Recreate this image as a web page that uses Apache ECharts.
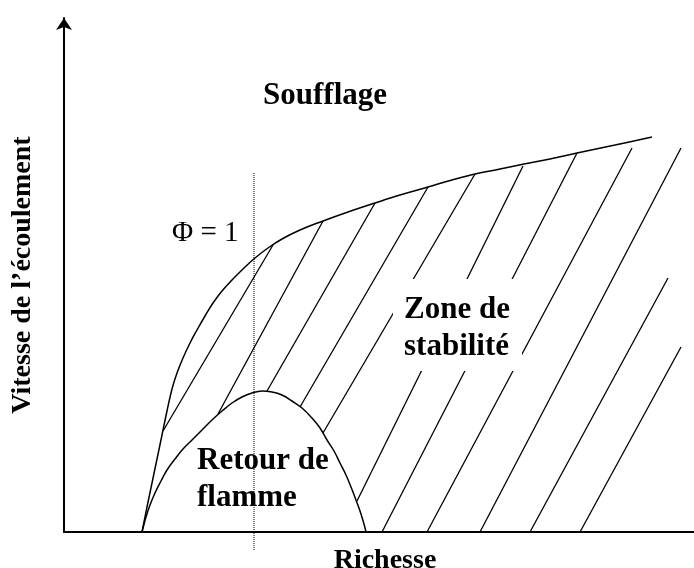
<!DOCTYPE html>
<html lang="fr">
<head>
<meta charset="utf-8">
<title>Diagramme de stabilité</title>
<script src="https://cdn.jsdelivr.net/npm/echarts@6/dist/echarts.min.js"></script>
<style>
    html, body { margin: 0; padding: 0; background: #fff; }
    #chart { width: 694px; height: 568px; }
</style>
</head>
<body>
<div id="chart"></div>
<script>
// Courbe limite de soufflage (x = richesse, y = vitesse, unités arbitraires)
const blowoffCurve = [
    [78, 0], [83, 25], [88, 49], [93, 73], [98, 97], [103, 121], [108, 143],
    [113, 159], [119, 174], [126, 189], [133, 202], [141, 216], [149, 229],
    [158, 241], [168, 252], [179, 263], [191, 274], [204, 284], [218, 293],
    [236, 302], [259, 311], [284, 320], [311, 329], [336, 337], [364, 345],
    [388, 352], [411, 358], [436, 363], [460, 368], [486, 373], [513, 379],
    [551, 387], [588, 395]
];

// Courbe limite de retour de flamme
const flashbackCurve = [
    [78, 0], [82, 15], [86, 27], [91, 39], [97, 51], [103, 62], [111, 73],
    [119, 83], [128, 92], [138, 102], [148, 112], [158, 121], [168, 129],
    [178, 135], [188, 139], [198, 141], [208, 140], [218, 137], [228, 131],
    [238, 124], [248, 114], [256, 104], [263, 92], [270, 81], [276, 69],
    [282, 57], [287, 45], [292, 32], [297, 18], [302, 0]
];

// Hachures de la zone de stabilité : début et fin de chaque trait
const hatchFrom = [
    [99, 101], [154, 118], [203, 141], [236, 125], [259, 99], [293, 31],
    [318, 0], [363, 0], [416, 0], [466, 0], [516, 0]
];
const hatchTo = [
    [209, 287], [259, 311], [311, 329], [364, 345], [411, 358], [459, 366],
    [513, 379], [568, 384], [617, 384], [604, 254], [617, 185]
];

// Richesse stoechiométrique (trait pointillé)
const phiLine = [[190, 359], [190, -19]];

const axisNames = ['Richesse', 'Vitesse de l’écoulement'];
const zoneLabels = ['Soufflage', 'Zone de\nstabilité', 'Retour de\nflamme'];
const phiLabel = 'Φ = 1';

const chart = echarts.init(document.getElementById('chart'));

const serifBold = 'bold 31px "Liberation Serif"';

const option = {
    animation: false,
    grid: {
        left: 64, right: 0, top: 18, bottom: 36,
        containLabel: false,
        outerBoundsMode: 'none'
    },
    xAxis: {
        type: 'value',
        min: 0,
        max: 630,
        name: axisNames[0],
        nameLocation: 'middle',
        nameGap: 15,
        nameTextStyle: {
            fontFamily: 'Liberation Serif', fontWeight: 'bold', fontSize: 28,
            color: '#000', padding: [0, 0, 0, 12]
        },
        axisLine: { lineStyle: { color: '#000', width: 2 } },
        axisTick: { show: false },
        axisLabel: { show: false },
        splitLine: { show: false }
    },
    yAxis: {
        type: 'value',
        min: 0,
        max: 514,
        name: axisNames[1],
        nameLocation: 'middle',
        nameGap: 27,
        nameRotate: 90,
        nameTextStyle: {
            fontFamily: 'Liberation Serif', fontWeight: 'bold', fontSize: 28, color: '#000'
        },
        axisLine: {
            show: true,
            symbol: ['none', 'arrow'],
            symbolSize: [12, 12],
            lineStyle: { color: '#000', width: 2 }
        },
        axisTick: { show: false },
        axisLabel: { show: false },
        splitLine: { show: false }
    },
    series: [
        {
            name: 'soufflage',
            type: 'line',
            data: blowoffCurve,
            smooth: 0.4,
            symbol: 'none',
            lineStyle: { color: '#000', width: 1.5 }
        },
        {
            name: 'retour de flamme',
            type: 'line',
            data: flashbackCurve,
            smooth: 0.4,
            symbol: 'none',
            lineStyle: { color: '#000', width: 1.5 }
        },
        {
            name: 'hachures',
            type: 'lines',
            coordinateSystem: 'cartesian2d',
            data: hatchFrom.map((p, i) => ({ coords: [p, hatchTo[i]] })),
            lineStyle: { color: '#000', width: 1.3, opacity: 1, curveness: 0 },
            silent: true
        },
        {
            name: 'phi',
            type: 'line',
            data: phiLine,
            clip: false,
            symbol: 'none',
            lineStyle: { color: '#000', width: 1, type: [1, 1] }
        }
    ],
    graphic: [
        {
            type: 'text', x: 263, y: 96, z: 100,
            style: {
                text: zoneLabels[0], font: serifBold, fill: '#000',
                textVerticalAlign: 'middle', verticalAlign: 'middle'
            }
        },
        {
            type: 'rect', z: 99,
            shape: { x: 393, y: 279, width: 129, height: 92 },
            style: { fill: '#fff' }
        },
        {
            type: 'text', x: 404, y: 328, z: 100,
            style: {
                text: zoneLabels[1], font: serifBold, fill: '#000', lineHeight: 37,
                textVerticalAlign: 'middle', verticalAlign: 'middle'
            }
        },
        {
            type: 'text', x: 197, y: 479, z: 100,
            style: {
                text: zoneLabels[2], font: serifBold, fill: '#000', lineHeight: 37,
                textVerticalAlign: 'middle', verticalAlign: 'middle'
            }
        },
        {
            type: 'text', x: 172, y: 233, z: 100,
            style: {
                text: phiLabel, font: '29px "Liberation Serif"', fill: '#000',
                textVerticalAlign: 'middle', verticalAlign: 'middle'
            }
        }
    ]
};

chart.setOption(option);
</script>
</body>
</html>
